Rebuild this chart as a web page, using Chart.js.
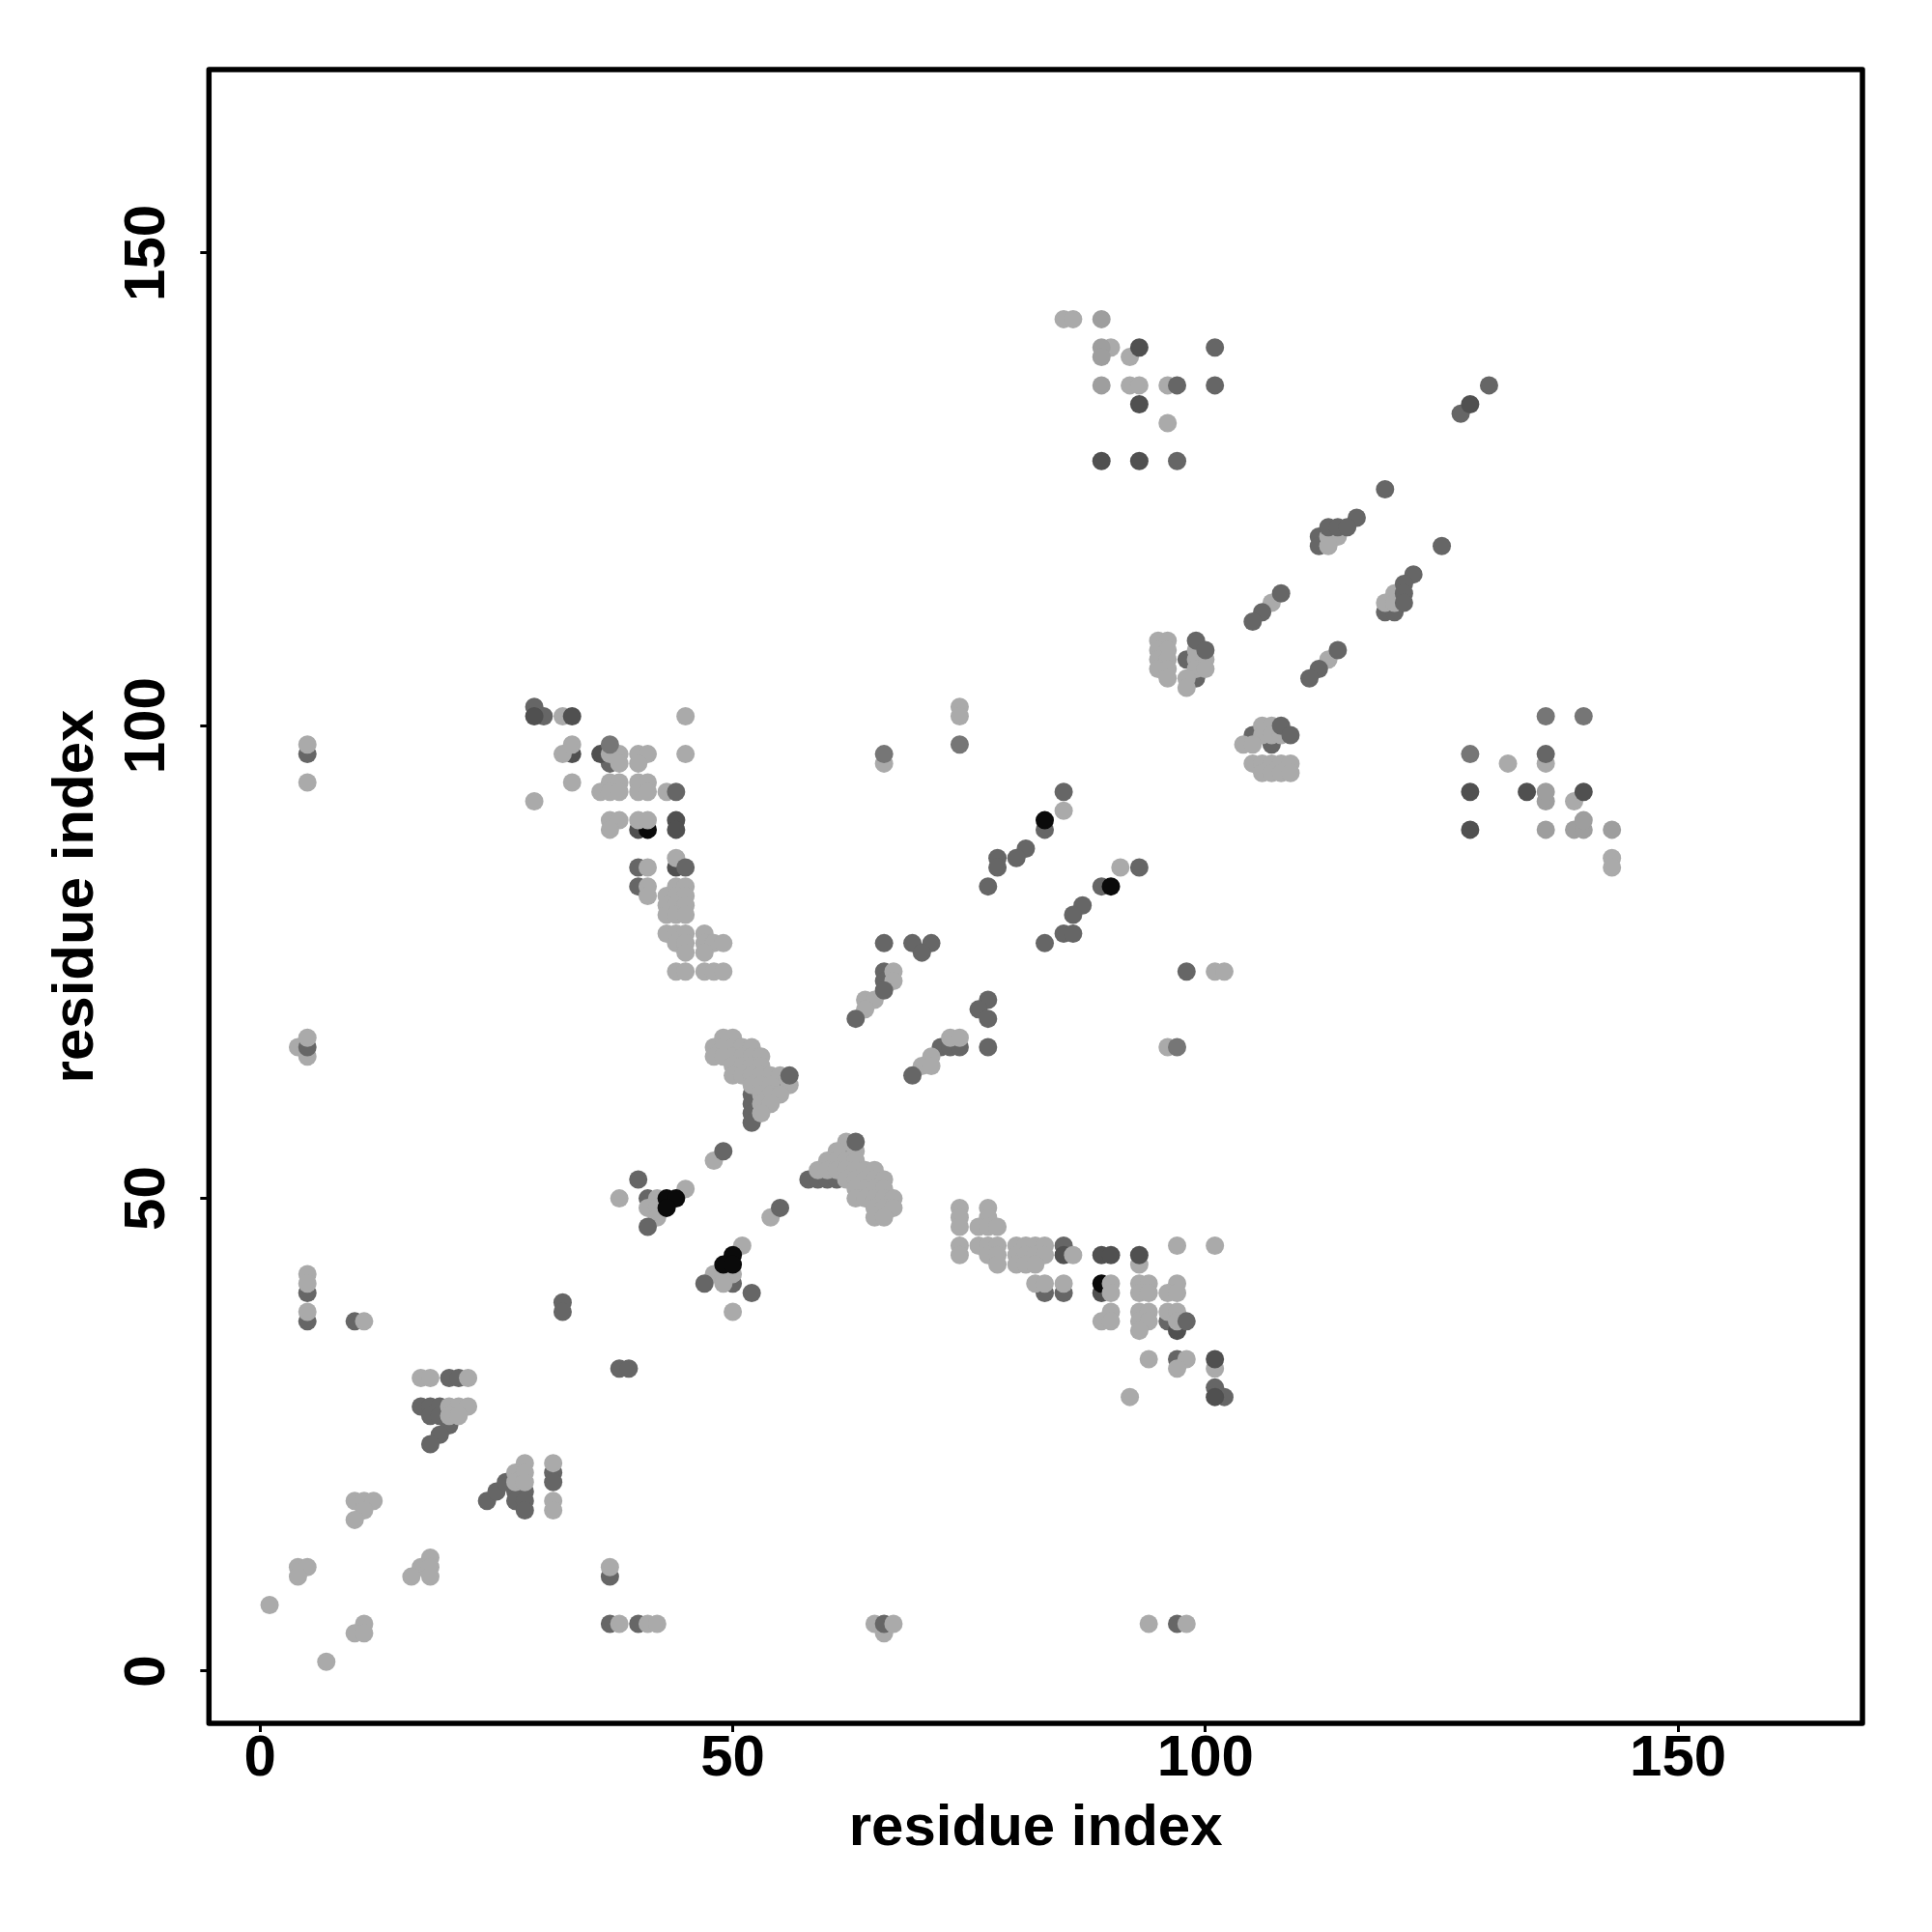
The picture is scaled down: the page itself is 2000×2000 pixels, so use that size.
<!DOCTYPE html>
<html>
<head>
<meta charset="utf-8">
<title>residue contacts</title>
<script src="https://cdn.jsdelivr.net/npm/chart.js@4"></script>
<style>
    html, body { margin: 0; padding: 0; background: #ffffff; }
    canvas { display: block; }
</style>
</head>
<body>
<canvas id="myChart" width="2000" height="2000"></canvas>
<script>
const x_ticks = [0, 50, 100, 150];
const y_ticks = [0, 50, 100, 150];
const axis_title = "residue index";

// contacts as [residue, residue], listed from the bottom layer of the picture up
const light_under = [[5,65],[4,66],[65,5],[66,4]];
const dark_under = [
    [5,97],[5,66],[5,40],[5,37],[10,37],[37,10],[37,5],[40,5],[66,5],[97,5],
    [17,28],[18,28],[19,28],[18,27],[19,27],[20,26],[19,25],[18,24],[20,31],[21,31],
    [24,18],[25,19],[26,20],[27,19],[28,19],[27,18],[28,18],[28,17],[31,21],[31,20],
    [37,96],[40,85],[40,83],[41,50],[50,41],[52,61],[52,60],[52,59],[52,58],[55,62],
    [58,52],[59,52],[60,52],[61,52],[62,55],[66,74],[66,73],[72,66],[73,66],[74,66],
    [83,89],[89,83],[83,40],[85,40],[85,45],[96,37],[97,33],[98,107],[99,105],[105,99],
    [107,98],[112,120],[112,119],[119,112],[120,112]
];
const darker_under = [[33,97],[36,97],[40,89],[44,85],[85,44],[89,40],[97,36]];
const black_under = [[41,89],[89,41]];
const light = [
    [5,98],[5,94],[5,67],[5,42],[5,41],[5,38],[11,37],[17,31],[18,31],[22,31],
    [20,28],[21,28],[22,28],[20,27],[21,27],[27,21],[28,22],[27,20],[28,21],[28,20],[31,22],[31,18],[31,17],
    [10,18],[11,18],[12,18],[11,17],[10,16],[18,12],[17,11],[18,11],[16,10],[18,10],[4,11],[5,11],[4,10],
    [1,7],[11,5],[10,4],[11,4],[7,1],[37,11],[38,5],[41,5],[42,5],[67,5],[94,5],[98,5],
    [32,101],[45,101],[32,97],[33,98],[38,97],[38,96],[37,97],[40,97],[41,97],[40,96],[45,97],[33,94],[29,92],
    [37,94],[38,94],[40,94],[41,94],[36,93],[37,93],[38,93],[40,93],[41,93],[43,93],
    [37,90],[38,90],[40,90],[41,90],[37,89],[44,86],[41,85],[41,83],[44,83],[45,83],
    [41,82],[43,82],[44,82],[45,82],[43,81],[44,81],[45,81],[43,80],[44,80],[45,80],
    [43,78],[44,78],[45,78],[47,78],[44,77],[45,77],[47,77],[48,77],[49,77],[45,76],[47,76],
    [44,74],[45,74],[47,74],[48,74],[49,74],[66,96],[74,102],[74,101],[67,74],[67,73],[64,71],[65,71],[64,70],
    [49,67],[50,67],[48,66],[49,66],[50,66],[51,66],[52,66],[48,65],[49,65],[50,65],[51,65],[52,65],[53,65],
    [50,64],[51,64],[52,64],[53,64],[50,63],[51,63],[52,63],[53,63],[54,63],[55,63],
    [52,62],[53,62],[54,62],[56,62],[53,61],[54,61],[55,61],[53,60],[54,60],[53,59],
    [62,56],[61,55],[63,55],[60,54],[61,54],[62,54],[63,54],[59,53],[60,53],[61,53],[62,53],[63,53],[64,53],[65,53],
    [62,52],[63,52],[64,52],[65,52],[66,52],[63,51],[64,51],[65,51],[66,51],
    [63,50],[64,50],[65,50],[66,50],[67,50],[65,49],[66,49],[67,49],[65,48],[66,48],
    [48,54],[38,50],[42,50],[45,51],[41,49],[42,49],[42,48],[54,48],[51,45],[48,42],[49,42],[50,42],[49,41],[50,38],
    [74,49],[74,48],[74,47],[74,45],[74,44],[77,49],[77,48],[76,47],[77,47],[78,47],
    [76,45],[77,45],[78,45],[80,45],[81,45],[82,45],[83,45],[77,44],[78,44],[80,44],[81,44],[82,44],[83,44],
    [78,43],[80,43],[81,43],[82,43],[82,41],[83,41],[85,41],[86,44],[93,43],[90,41],[93,41],[94,41],[97,41],
    [90,40],[93,40],[94,40],[96,40],[97,40],[90,38],[93,38],[94,38],[96,38],[97,38],
    [89,37],[90,37],[93,37],[94,37],[97,37],[93,36],[94,33],[98,33],[97,32],[101,32],[92,29],[97,45],[101,45],
    [73,67],[74,67],[71,65],[70,64],[71,64],[96,66],[101,74],[102,74],[85,91],[91,85],
    [85,143],[86,143],[90,140],[92,139],[92,136],[93,136],[96,136],[96,132],
    [113,120],[114,120],[113,119],[120,114],[119,113],[120,113],[107,113],[113,107],
    [95,109],[96,109],[95,108],[96,108],[95,107],[96,107],[95,106],[96,106],[96,105],
    [99,108],[99,107],[100,107],[99,106],[100,106],[98,105],[98,104],
    [106,100],[107,100],[106,99],[107,99],[108,99],[104,98],[105,98],
    [105,96],[106,96],[107,96],[108,96],[109,96],[106,95],[107,95],[108,95],[109,95],
    [132,96],[136,96],[139,92],[143,86],[143,85]
];
const mid_gray = [[89,143],[89,140],[89,139],[89,136],[136,92],[136,93],[136,89],[139,89],[140,89],[143,89],[140,90]];
const steel = [[66,97],[74,98],[97,66],[37,98],[128,97],[136,101],[140,101]];
const dark_top = [
    [29,102],[30,101],[32,39],[32,38],[38,32],[39,32],[41,47],[40,52],[44,93],[45,85],[49,55],[55,49],[47,41],[52,40],[56,63],[63,56],
    [63,69],[69,63],[66,72],[66,77],[69,77],[71,77],[70,76],[77,71],[76,70],[77,69],[77,66],[98,74],
    [85,93],[81,87],[80,86],[78,86],[78,85],[77,83],[93,85],[87,81],[86,80],[85,78],[86,78],[83,77],
    [98,37],[101,30],[102,29],[101,140],[97,136],[101,136],[97,128],
    [119,125],[116,122],[113,121],[114,121],[115,121],[125,119],[122,116],[121,115],[121,114],[121,113],
    [108,114],[106,112],[105,111],[114,108],[112,106],[111,105],[130,136],[127,133],
    [99,109],[100,108],[108,100],[109,99],[136,97]
];
const darker_top = [
    [29,101],[33,101],[44,90],[44,89],[89,44],[90,44],[93,44],[101,33],[101,29],
    [93,140],[93,134],[89,128],[93,128],[128,134],[128,93],[134,93],[140,93],[128,89]
];
const black_top = [[43,50],[44,50],[43,49],[50,44],[49,43],[50,43],[83,90],[90,83]];

const layers = [
    [light_under, "#aaaaaa"],
    [dark_under, "#666666"],
    [darker_under, "#505050"],
    [black_under, "#0a0a0a"],
    [light, "#aaaaaa"],
    [mid_gray, "#9e9e9e"],
    [steel, "#767676"],
    [dark_top, "#666666"],
    [darker_top, "#505050"],
    [black_top, "#0a0a0a"]
];

var datasets = [];
for (var i = 0; i < layers.length; i++) {
    datasets.push({
        data: layers[i][0].map(function (p) { return { x: p[0], y: p[1] }; }),
        backgroundColor: layers[i][1],
        pointRadius: 9.5,
        pointBorderWidth: 0,
        order: layers.length - i
    });
}

// R-style box round the plot area
const frame = {
    id: 'frame',
    afterDatasetsDraw: function (chart) {
        const a = chart.chartArea;
        const ctx = chart.ctx;
        ctx.save();
        ctx.strokeStyle = "#000000";
        ctx.lineWidth = 5.5;
        ctx.lineJoin = "round";
        ctx.strokeRect(a.left, a.top, a.right - a.left, a.bottom - a.top);
        ctx.restore();
    }
};

const font = { family: "'Liberation Sans'", size: 60, weight: "bold" };

new Chart(document.getElementById('myChart'), {
    type: 'scatter',
    data: { datasets: datasets },
    plugins: [frame],
    options: {
        responsive: false,
        animation: false,
        devicePixelRatio: 1,
        layout: { padding: { top: 72, right: 72, left: 0, bottom: 0 } },
        plugins: { legend: { display: false }, tooltip: { enabled: false } },
        scales: {
            x: {
                type: 'linear',
                min: -5.415,
                max: 169.5,
                afterFit: function (scale) { scale.height = 216; },
                afterBuildTicks: function (scale) { scale.ticks = x_ticks.map(function (v) { return { value: v }; }); },
                border: { display: false },
                grid: { drawOnChartArea: false, tickLength: 9, tickWidth: 3, tickColor: "#000000" },
                ticks: { color: "#000000", font: font, padding: -8, maxRotation: 0, minRotation: 0 },
                title: { display: true, text: axis_title, color: "#000000", font: font, padding: { top: 0, bottom: 71 } }
            },
            y: {
                type: 'linear',
                min: -5.52,
                max: 169.4,
                afterFit: function (scale) { scale.width = 216.3; },
                afterBuildTicks: function (scale) { scale.ticks = y_ticks.map(function (v) { return { value: v }; }); },
                border: { display: false },
                grid: { drawOnChartArea: false, tickLength: 9, tickWidth: 3, tickColor: "#000000" },
                ticks: { color: "#000000", font: font, padding: 4, minRotation: 90, maxRotation: 90, crossAlign: 'center' },
                title: { display: true, text: axis_title, color: "#000000", font: font, padding: { top: 43, bottom: 0 } }
            }
        }
    }
});
</script>
</body>
</html>
